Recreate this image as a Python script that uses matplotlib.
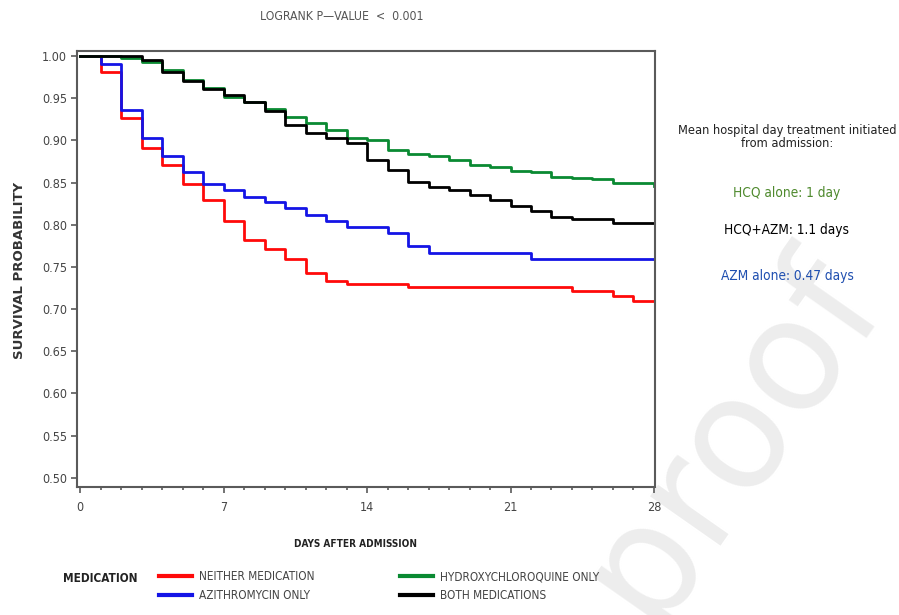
import numpy as np
import matplotlib
matplotlib.use("Agg")
import matplotlib.pyplot as plt
from matplotlib import font_manager

# ── Data ────────────────────────────────────────────────────────────────────
days = list(range(0, 29))

surv_neither = [1.000, 0.981, 0.927, 0.891, 0.871, 0.848, 0.829, 0.804, 0.782, 0.771,
                0.759, 0.743, 0.733, 0.730, 0.730, 0.730, 0.726, 0.726, 0.726, 0.726,
                0.726, 0.726, 0.726, 0.726, 0.721, 0.721, 0.715, 0.709, 0.709]
surv_azm = [1.000, 0.991, 0.936, 0.903, 0.882, 0.862, 0.848, 0.841, 0.833, 0.827,
            0.820, 0.812, 0.805, 0.797, 0.797, 0.790, 0.775, 0.767, 0.767, 0.767,
            0.767, 0.767, 0.759, 0.759, 0.759, 0.759, 0.759, 0.759, 0.759]
surv_hcq = [1.000, 1.000, 0.998, 0.993, 0.983, 0.972, 0.962, 0.951, 0.946, 0.937,
            0.928, 0.921, 0.912, 0.903, 0.900, 0.889, 0.884, 0.881, 0.877, 0.871,
            0.869, 0.864, 0.862, 0.857, 0.855, 0.854, 0.849, 0.849, 0.846]
surv_both = [1.000, 1.000, 1.000, 0.995, 0.981, 0.970, 0.961, 0.954, 0.946, 0.935,
             0.918, 0.909, 0.903, 0.897, 0.877, 0.865, 0.851, 0.845, 0.841, 0.835,
             0.829, 0.822, 0.816, 0.809, 0.807, 0.807, 0.802, 0.802, 0.802]

group_labels = ["NEITHER MEDICATION", "AZITHROMYCIN ONLY",
                "HYDROXYCHLOROQUINE ONLY", "BOTH MEDICATIONS"]
group_colors = ["#ff0a0a", "#1414e6", "#0a8a32", "#000000"]

yticks = [0.50, 0.55, 0.60, 0.65, 0.70, 0.75, 0.80, 0.85, 0.90, 0.95, 1.00]
xticks = [0, 7, 14, 21, 28]

notes = ["HCQ alone: 1 day", "HCQ+AZM: 1.1 days", "AZM alone: 0.47 days"]
note_colors = ["#4f8a2e", "#000000", "#1f4fb0"]


# ── Fonts: look for a condensed face, else shrink plain DejaVu ──────────────
def _find_font(keys):
    for f in font_manager.fontManager.ttflist:
        base = f.fname.rsplit("/", 1)[-1]
        if base in keys:
            return f.fname
    return None

reg_path = _find_font(["LiberationSansNarrow-Regular.ttf", "DejaVuSansCondensed.ttf"])
bold_path = _find_font(["LiberationSansNarrow-Bold.ttf", "DejaVuSansCondensed-Bold.ttf"])
SCALE = 1.0 if reg_path else 0.85


def fp(size, bold=False):
    path = bold_path if bold else reg_path
    if path:
        return font_manager.FontProperties(fname=path, size=size)
    return font_manager.FontProperties(family="DejaVu Sans", size=size * SCALE,
                                       weight="bold" if bold else "normal")


C_AXIS = "#5a5a5a"
C_TICK = "#444444"

fig = plt.figure(figsize=(8.99, 6.15), dpi=100)

# faint "Journal Pre-proof" watermark (only the tail shows in the reference)
fig.text(885/899, 1 - 300/615, "-proof", rotation=55, rotation_mode="anchor",
         ha="right", va="baseline", fontsize=112, color="#ededed", zorder=-1)

ax = fig.add_axes([77/899, 1 - 487/615, (655 - 77)/899, (487 - 51)/615])

for surv, col in zip([surv_neither, surv_azm, surv_hcq, surv_both], group_colors):
    ax.step(days, surv, where="post", color=col, lw=2.0)

ax.set_xlim(-0.15, 28.05)
ax.set_ylim(0.489, 1.006)
ax.set_xticks(xticks)
ax.set_xticks(range(0, 29), minor=True)
ax.set_yticks(yticks)
ax.set_yticklabels([f"{v:.2f}" for v in yticks])
ax.tick_params(axis="both", which="both", direction="out", color=C_AXIS, width=1.2)
ax.tick_params(axis="both", which="major", length=4, labelcolor=C_TICK, pad=3)
ax.tick_params(axis="x", which="minor", length=2.5)
ax.tick_params(axis="x", which="major", pad=6)
for lab in ax.get_xticklabels() + ax.get_yticklabels():
    lab.set_fontproperties(fp(9))
for sp in ax.spines.values():
    sp.set_color(C_AXIS)
    sp.set_linewidth(1.5)

# titles and axis labels
fig.text(342/899, 1 - 17/615, "LOGRANK P\u2014VALUE  <  0.001", ha="center", va="center",
         fontproperties=fp(8.8), color="#555555")
fig.text(20/899, 1 - 270/615, "SURVIVAL PROBABILITY", rotation=90, ha="center", va="center",
         fontsize=9.5, fontweight="bold", color="#333333")
fig.text(355/899, 1 - 544/615, "DAYS AFTER ADMISSION", ha="center", va="center",
         fontproperties=fp(7.2, bold=True), color="#222222")

# legend
fig.text(63/899, 1 - 578/615, "MEDICATION", ha="left", va="center",
         fontproperties=fp(8.5, bold=True), color="#222222")
leg = fig.legend(ax.get_lines(), group_labels, ncol=2, loc="upper left",
                 bbox_to_anchor=(159/899, 1 - 570/615), frameon=False,
                 prop=fp(8.5), handlelength=2.8, handletextpad=0.6, columnspacing=7.2,
                 labelspacing=0.55, borderaxespad=0, borderpad=0)
for t in leg.get_texts():
    t.set_color(C_TICK)
for h in leg.get_lines():
    h.set_linewidth(3)

# right-hand annotations
fig.text(787/899, 1 - 137/615, "Mean hospital day treatment initiated\nfrom admission:",
         ha="center", va="center", fontproperties=fp(9.2), linespacing=0.95, color="#222222")
for txt, col, yp in zip(notes, note_colors, [193, 230, 276]):
    fig.text(787/899, 1 - yp/615, txt, ha="center", va="center",
             fontproperties=fp(9.8), color=col)

fig.savefig("out.png", dpi=100)
